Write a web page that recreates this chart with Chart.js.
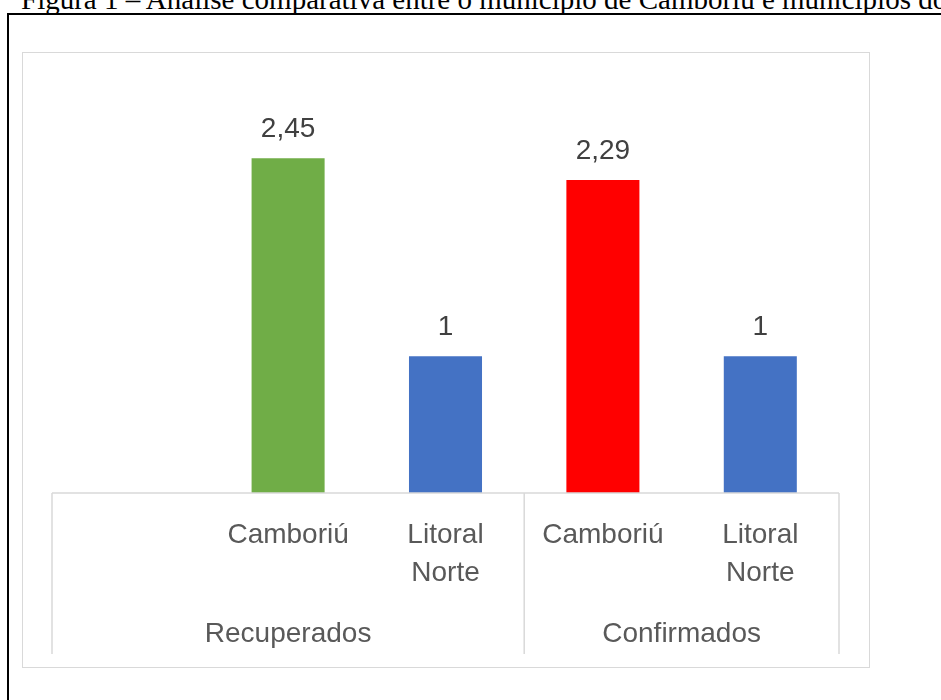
<!DOCTYPE html>
<html>
<head>
<meta charset="utf-8">
<title>Figura 1</title>
<script src="https://cdn.jsdelivr.net/npm/chart.js@4.4.0/dist/chart.umd.min.js"></script>
<style>
  html, body { margin: 0; padding: 0; background: #fff; overflow: hidden; }
  body { width: 941px; height: 700px; position: relative; }
  .title {
    position: absolute; left: 21px; top: -17px;
    font: 29px "Liberation Serif", "Times New Roman", serif;
    line-height: 32px; white-space: nowrap; color: #000;
  }
  .box {
    position: absolute; left: 7px; top: 13px; width: 980px; height: 740px;
    border-top: 2px solid #000; border-left: 2px solid #000;
  }
  .frame {
    position: absolute; left: 22px; top: 52px; width: 846px; height: 614px;
    border: 1px solid #d9d9d9;
  }
  #chart { position: absolute; left: 22px; top: 52px; }
</style>
</head>
<body>
<div class="title">Figura 1 – Análise comparativa entre o município de Camboriú e municípios do Litoral Norte</div>
<div class="box"></div>
<div class="frame"></div>
<canvas id="chart" width="847" height="616"></canvas>

<script>
// data
const categories = ["", "Camboriú", ["Litoral", "Norte"], "Camboriú", ["Litoral", "Norte"]];
const values = [null, 2.45, 1, 2.29, 1];
const barColors = ["#70AD47", "#70AD47", "#4472C4", "#FF0000", "#4472C4"];
const groupNames = ["Recuperados", "Confirmados"];
const groupSizes = [3, 2];

const labelFont = '"Liberation Sans", Arial, sans-serif';
const gridColor = "#d9d9d9";

// value labels above the bars, with a decimal comma
const barValues = {
  id: "barValues",
  afterDatasetsDraw(chart) {
    const ctx = chart.ctx;
    const meta = chart.getDatasetMeta(0);
    ctx.save();
    ctx.font = "28px " + labelFont;
    ctx.fillStyle = "#404040";
    ctx.textAlign = "center";
    ctx.textBaseline = "middle";
    meta.data.forEach((bar, i) => {
      if (values[i] === null) return;
      ctx.fillText(String(values[i]).replace(".", ","), bar.x, bar.y - 29);
    });
    ctx.restore();
  }
};

// excel style multi level category axis: line, group dividers, group names
const groupAxis = {
  id: "groupAxis",
  afterDraw(chart) {
    const ctx = chart.ctx;
    const x = chart.scales.x;
    const area = chart.chartArea;
    const step = x.getPixelForValue(1) - x.getPixelForValue(0);
    const top = area.bottom;
    const bottom = top + 161;

    ctx.save();
    ctx.strokeStyle = gridColor;
    ctx.lineWidth = 1.5;
    ctx.beginPath();
    ctx.moveTo(area.left, top);
    ctx.lineTo(area.right, top);

    let start = 0;
    const edges = [x.getPixelForValue(0) - step / 2];
    groupSizes.forEach(n => {
      start += n;
      edges.push(x.getPixelForValue(start - 1) + step / 2);
    });
    edges.forEach(px => {
      ctx.moveTo(px, top);
      ctx.lineTo(px, bottom);
    });
    ctx.stroke();

    ctx.font = "28px " + labelFont;
    ctx.fillStyle = "#595959";
    ctx.textAlign = "center";
    ctx.textBaseline = "middle";
    groupNames.forEach((name, i) => {
      ctx.fillText(name, (edges[i] + edges[i + 1]) / 2, top + 141);
    });
    ctx.restore();
  }
};

new Chart(document.getElementById("chart"), {
  type: "bar",
  data: {
    labels: categories,
    datasets: [{
      data: values,
      backgroundColor: barColors,
      borderWidth: 0,
      categoryPercentage: 1,
      barPercentage: 0.464
    }]
  },
  options: {
    responsive: false,
    animation: false,
    layout: { padding: { left: 30, right: 30, top: 31, bottom: 0 } },
    plugins: {
      legend: { display: false },
      tooltip: { enabled: false }
    },
    scales: {
      x: {
        grid: { display: false, drawTicks: false },
        border: { display: false },
        ticks: {
          autoSkip: false,
          maxRotation: 0,
          padding: 23,
          color: "#595959",
          font: { family: labelFont, size: 28, lineHeight: 1.357 }
        },
        afterFit(scale) { scale.height = 175; }
      },
      y: {
        display: false,
        min: 0,
        max: 3
      }
    }
  },
  plugins: [barValues, groupAxis]
});
</script>
</body>
</html>
